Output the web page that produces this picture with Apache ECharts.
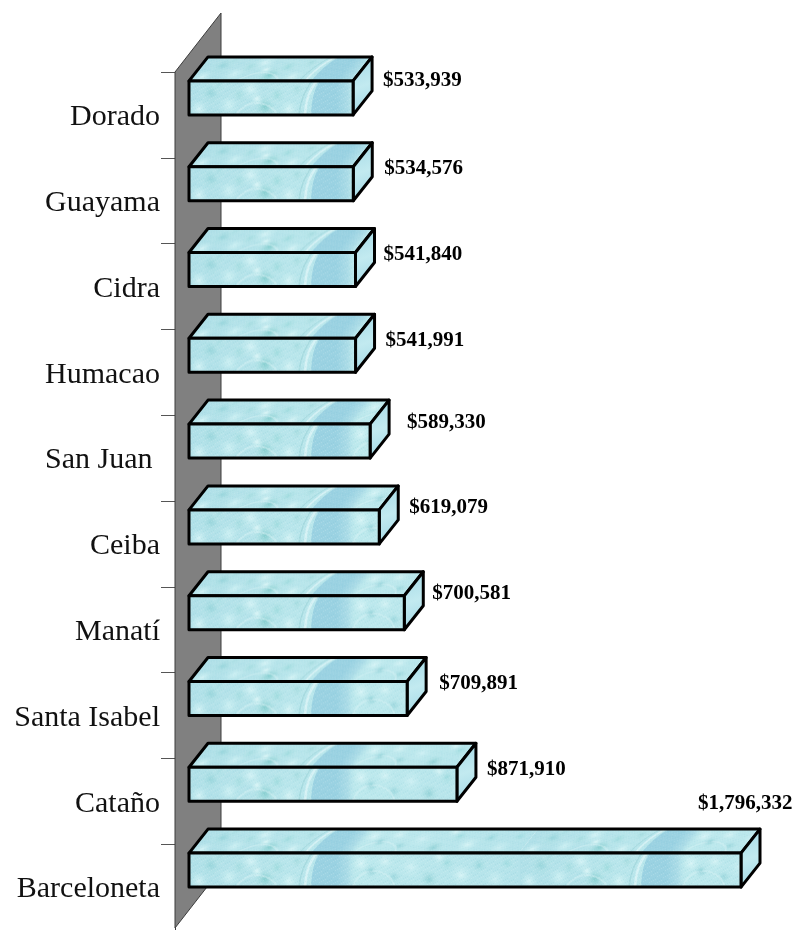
<!DOCTYPE html>
<html>
<head>
<meta charset="utf-8">
<style>
  html, body { margin: 0; padding: 0; background: #fff; }
  #chart { width: 796px; height: 930px; }
</style>
<script src="https://cdn.jsdelivr.net/npm/echarts@6/dist/echarts.min.js"></script>
</head>
<body>
<div id="chart"></div>
<script>
// chart values, top to bottom
var towns = ['Dorado', 'Guayama', 'Cidra', 'Humacao', 'San Juan ', 'Ceiba', 'Manatí', 'Santa Isabel', 'Cataño', 'Barceloneta'];
var amounts = [533939, 534576, 541840, 541991, 589330, 619079, 700581, 709891, 871910, 1796332];

// hand placed labels in the original: shift from the bar's front top right corner
var labelShiftX = [30, 31, 28, 30, 37, 30, 28, 32, 30, -43];
var labelShiftY = [0, 2, 2, 2, -2, -2, -2, 2, 2, -50];

var BAR_H = 34, DEPTH_X = 19, DEPTH_Y = 24, TILE_W = 330;

// water picture used as bar fill
var blotches = [
  [22, 12, 13, '#98d5db'], [40, 24, 11, '#cef1f4'], [62, 8, 12, '#d4f3f6'], [76, 26, 13, '#84cdce'],
  [88, 14, 10, '#9fdbde'], [100, 28, 10, '#d6f4f6'], [10, 28, 10, '#d4f3f6'], [50, 14, 9, '#a4dce0'],
  [30, 4, 8, '#a8dde3'], [108, 8, 9, '#a6dce0'], [68, 18, 7, '#dcf6f7'],
  [172, 10, 11, '#d8f5f7'], [182, 18, 8, '#8dcfd6'], [196, 8, 10, '#d4f3f5'], [205, 24, 9, '#9cd7dd'],
  [222, 14, 12, '#cef0f4'], [240, 26, 11, '#93d2d7'], [258, 10, 10, '#a1dce0'], [272, 22, 12, '#d6f4f6'],
  [290, 12, 10, '#98d6dc'], [306, 26, 11, '#caeef2'], [318, 10, 9, '#9fdbe0'], [250, 4, 8, '#d6f4f6']
];

function paintWater(c) {
  var g = c.createLinearGradient(0, 0, TILE_W, 0);
  g.addColorStop(0, '#b0e0e8');
  g.addColorStop(0.5, '#bde9ed');
  g.addColorStop(1, '#b4e3ea');
  c.fillStyle = g;
  c.fillRect(0, 0, TILE_W, BAR_H);
  blotches.forEach(function (b) {
    var r = c.createRadialGradient(b[0], b[1], 0, b[0], b[1], b[2]);
    r.addColorStop(0, b[3]);
    r.addColorStop(1, 'rgba(190,233,237,0)');
    c.fillStyle = r;
    c.fillRect(b[0] - b[2], b[1] - b[2], b[2] * 2, b[2] * 2);
  });
  // darker band, curved on the left and fading out on the right
  var band = c.createLinearGradient(122, 0, 168, 0);
  band.addColorStop(0, '#9bd2e2');
  band.addColorStop(0.55, '#9ad2e2');
  band.addColorStop(0.8, '#abdce7');
  band.addColorStop(1, 'rgba(189,233,237,0)');
  c.fillStyle = band;
  c.beginPath();
  c.moveTo(131, 0);
  c.lineTo(168, 0);
  c.lineTo(168, BAR_H);
  c.lineTo(122, BAR_H);
  c.quadraticCurveTo(123, 10, 131, 0);
  c.fill();
  c.strokeStyle = '#d6f2f5';
  c.lineWidth = 2.5;
  c.beginPath();
  c.moveTo(128, 0);
  c.quadraticCurveTo(117, 12, 116, BAR_H);
  c.stroke();
  c.lineWidth = 1.5;
  c.strokeStyle = '#a6dadf';
  c.beginPath();
  c.moveTo(123, 0);
  c.quadraticCurveTo(112, 14, 110, BAR_H);
  c.stroke();
  c.strokeStyle = 'rgba(220,245,247,0.4)';
  c.lineWidth = 2;
  c.beginPath();
  c.arc(185, 40, 22, Math.PI * 1.1, Math.PI * 1.9);
  c.stroke();
  c.beginPath();
  c.arc(68, 46, 24, Math.PI * 1.15, Math.PI * 1.8);
  c.stroke();
  // fine grain of the scanned picture
  for (var x = 0; x < TILE_W; x += 2) {
    for (var y = (x % 4) / 2; y < BAR_H; y += 2) {
      var n = (x * 7 + y * 13) % 11;
      c.fillStyle = n < 4 ? 'rgba(255,255,255,0.16)' : n > 7 ? 'rgba(90,170,185,0.10)' : 'rgba(255,255,255,0)';
      c.fillRect(x, y, 1, 1);
    }
  }
}

function makeTile(h, shear) {
  var cv = document.createElement('canvas');
  cv.width = TILE_W;
  cv.height = h;
  var c = cv.getContext('2d');
  [-TILE_W, 0, TILE_W].forEach(function (dx) {
    c.save();
    c.transform(1, 0, shear, h / BAR_H, dx, 0);
    paintWater(c);
    c.restore();
  });
  return cv;
}

var frontTile = makeTile(BAR_H, 0);
var topTile = makeTile(DEPTH_Y, -DEPTH_X / BAR_H);
var sideFill = new echarts.graphic.LinearGradient(0, 0, 1, 1, [
  { offset: 0, color: '#a3d9e6' },
  { offset: 0.5, color: '#c2eaf0' },
  { offset: 1, color: '#9fd6e4' }
]);

function renderBar(params, api) {
  var i = api.value(1);
  var base = api.coord([0, i]);
  var end = api.coord([api.value(0), i]);
  var x0 = base[0], x1 = end[0], bottom = base[1], top = bottom - BAR_H;
  var w = x1 - x0;
  var edge = { stroke: '#000', lineWidth: 3, lineJoin: 'round' };
  return {
    type: 'group',
    children: [
      {
        type: 'polygon', x: x0 + DEPTH_X, y: top - DEPTH_Y,
        shape: { points: [[0, 0], [w, 0], [-DEPTH_X + w, DEPTH_Y], [-DEPTH_X, DEPTH_Y]] },
        style: Object.assign({ fill: { image: topTile, repeat: 'repeat' } }, edge)
      },
      {
        type: 'polygon',
        shape: { points: [[x1, top], [x1 + DEPTH_X, top - DEPTH_Y], [x1 + DEPTH_X, bottom - DEPTH_Y], [x1, bottom]] },
        style: Object.assign({ fill: sideFill }, edge)
      },
      {
        type: 'rect', x: x0, y: top,
        shape: { x: 0, y: 0, width: w, height: BAR_H },
        style: Object.assign({ fill: { image: frontTile, repeat: 'repeat' } }, edge)
      },
      {
        type: 'text',
        style: {
          text: '$' + api.value(0).toLocaleString('en-US'),
          x: x1 + labelShiftX[i],
          y: top + labelShiftY[i],
          fill: '#000',
          font: 'bold 21px "Liberation Serif"',
          textAlign: 'left',
          textVerticalAlign: 'middle'
        }
      }
    ]
  };
}

// grey back wall, leaning with the same depth as the bars
function renderWall(params) {
  var s = params.coordSys;
  var left = s.x - 14, right = s.x + 32, lean = 59;
  return {
    type: 'polygon',
    shape: { points: [[left, s.y], [right, s.y - lean], [right, s.y + s.height - lean - 2], [left, s.y + s.height - 2]] },
    style: { fill: '#808080', stroke: '#3c3c3c', lineWidth: 1 }
  };
}

var chart = echarts.init(document.getElementById('chart'), null, { renderer: 'canvas' });
chart.setOption({
  animation: false,
  backgroundColor: '#fff',
  grid: { left: 189, top: 72, width: 552, height: 860 },
  xAxis: { type: 'value', min: 0, max: 1796332, show: false },
  yAxis: {
    type: 'category',
    data: towns,
    inverse: true,
    offset: 14,
    axisLine: { show: true, onZero: false, lineStyle: { color: '#3c3c3c', width: 1 } },
    axisTick: { show: true, length: 14, lineStyle: { color: '#555', width: 1 } },
    // top aligned with a small line height drops the text a little below the band centre
    axisLabel: { margin: 15, color: '#111', fontFamily: 'Liberation Serif', fontSize: 30, verticalAlign: 'top', lineHeight: 5 }
  },
  series: [
    {
      type: 'custom',
      z: 1,
      clip: false,
      silent: true,
      renderItem: renderWall,
      data: [[0, 0]]
    },
    {
      type: 'custom',
      z: 3,
      clip: false,
      renderItem: renderBar,
      encode: { x: 0, y: 1 },
      data: amounts.map(function (v, i) { return [v, i]; })
    }
  ]
});
</script>
</body>
</html>
